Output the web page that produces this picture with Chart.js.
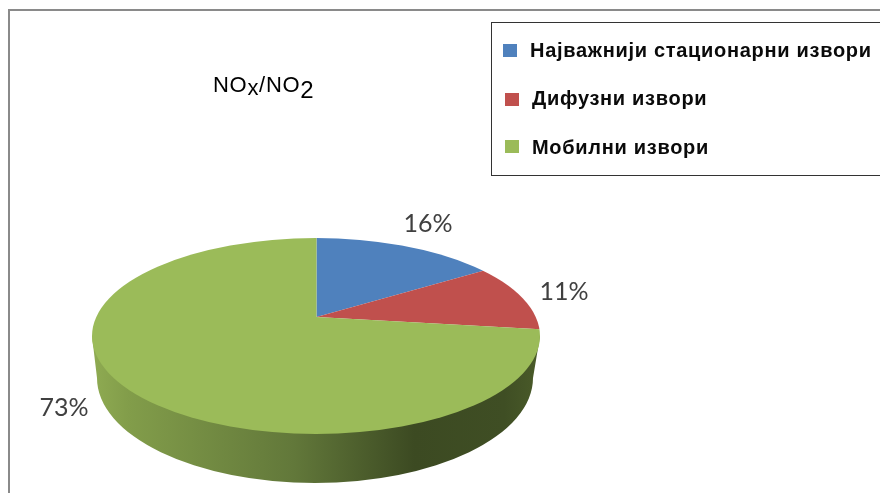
<!DOCTYPE html>
<html><head><meta charset="utf-8">
<style>html,body{margin:0;padding:0;background:#fff}#w{width:880px;height:493px;position:relative}canvas{display:block}</style>
<script src="https://cdn.jsdelivr.net/npm/chart.js@4"></script></head>
<body><div id="w"><canvas id="c" width="880" height="493"></canvas></div>
<script>
const categories = ["Најважнији стационарни извори", "Дифузни извори", "Мобилни извори"];
const values = [16, 11, 73];
const colors = ["#4f81bd", "#c0504d", "#9bbb59"];
const swatchBoxes = [[503,44],[505,93],[505,140]];
const legendTextPos = [[530,57],[532,105],[532,154]];
const pctPos = [[428,224],[564,292],[64,408]];
const face = {cx:316, cy:336, rx:224, ry:98};
const base = {cx:315, cy:378, rx:218, ry:105};
const squash = face.ry/face.rx, reach = 300;

const pie3d = {
  id:'pie3d',
  beforeDatasetsDraw(chart){
    const ctx = chart.ctx;
    // frame
    ctx.save();
    ctx.strokeStyle='#8a8a8a'; ctx.lineWidth=2;
    ctx.beginPath(); ctx.moveTo(9,493); ctx.lineTo(9,10); ctx.lineTo(880,10); ctx.stroke();
    // side wall
    const g = ctx.createLinearGradient(face.cx-face.rx,0,face.cx+face.rx,0);
    g.addColorStop(0,'#8fab52'); g.addColorStop(0.08,'#829d4a'); g.addColorStop(0.45,'#62783a');
    g.addColorStop(0.72,'#3c4a22'); g.addColorStop(0.92,'#3f4e24'); g.addColorStop(1,'#4a5b29');
    ctx.fillStyle=g;
    ctx.beginPath();
    ctx.moveTo(face.cx-face.rx,face.cy);
    ctx.lineTo(base.cx-base.rx,base.cy);
    ctx.ellipse(base.cx,base.cy,base.rx,base.ry,0,Math.PI,0,true);
    ctx.lineTo(face.cx+face.rx,face.cy);
    ctx.closePath(); ctx.fill();
    ctx.restore();
    // top face: library arcs, tilted and clipped to the face outline
    const a = chart.getDatasetMeta(0).data[0];
    const S = reach/a.outerRadius;
    ctx.save();
    ctx.beginPath(); ctx.ellipse(face.cx,face.cy,face.rx,face.ry,0,0,Math.PI*2); ctx.clip();
    ctx.translate(a.x,a.y); ctx.scale(S,S*squash); ctx.translate(-a.x,-a.y);
  },
  afterDatasetsDraw(chart){
    const ctx = chart.ctx;
    ctx.restore();
    // percentages
    ctx.save();
    ctx.font='25px Lato'; ctx.fillStyle='#404040'; ctx.textAlign='center'; ctx.textBaseline='middle';
    values.forEach((v,i)=>ctx.fillText(v+'%',pctPos[i][0],pctPos[i][1]));
    ctx.restore();
    // title
    ctx.save();
    ctx.fillStyle='#000'; ctx.textAlign='left'; ctx.textBaseline='alphabetic';
    ctx.letterSpacing='0.7px';
    ctx.font='22px "Liberation Sans"';
    let x=213;
    const piece=(t,dy)=>{ctx.fillText(t,x,92+dy); x+=ctx.measureText(t).width;};
    piece('NO',0); piece('x',3); piece('/NO',0); ctx.font='24px "Liberation Sans"'; piece('2',6);
    ctx.restore();
    // legend
    ctx.save();
    ctx.fillStyle='#fff'; ctx.strokeStyle='#333'; ctx.lineWidth=1;
    ctx.fillRect(491.5,22.5,389,153); ctx.strokeRect(491.5,22.5,389,153);
    categories.forEach((c,i)=>{
      ctx.fillStyle=colors[i]; ctx.fillRect(swatchBoxes[i][0],swatchBoxes[i][1],14,13);
      ctx.fillStyle='#0a0a0a'; ctx.font='bold 20px "Liberation Sans"'; ctx.textBaseline='alphabetic';
      ctx.letterSpacing='0.7px';
      ctx.fillText(c,legendTextPos[i][0],legendTextPos[i][1]);
    });
    ctx.restore();
  }
};

new Chart(document.getElementById('c'),{
  type:'pie',
  data:{labels:categories,datasets:[{data:values,backgroundColor:colors,borderWidth:0,clip:false,hoverOffset:0}]},
  options:{
    responsive:false,animation:false,
    layout:{padding:{left:0,right:247,top:141,bottom:0}},
    plugins:{legend:{display:false},tooltip:{enabled:false},title:{display:false}},
    events:[]
  },
  plugins:[pie3d]
});
</script></body></html>
